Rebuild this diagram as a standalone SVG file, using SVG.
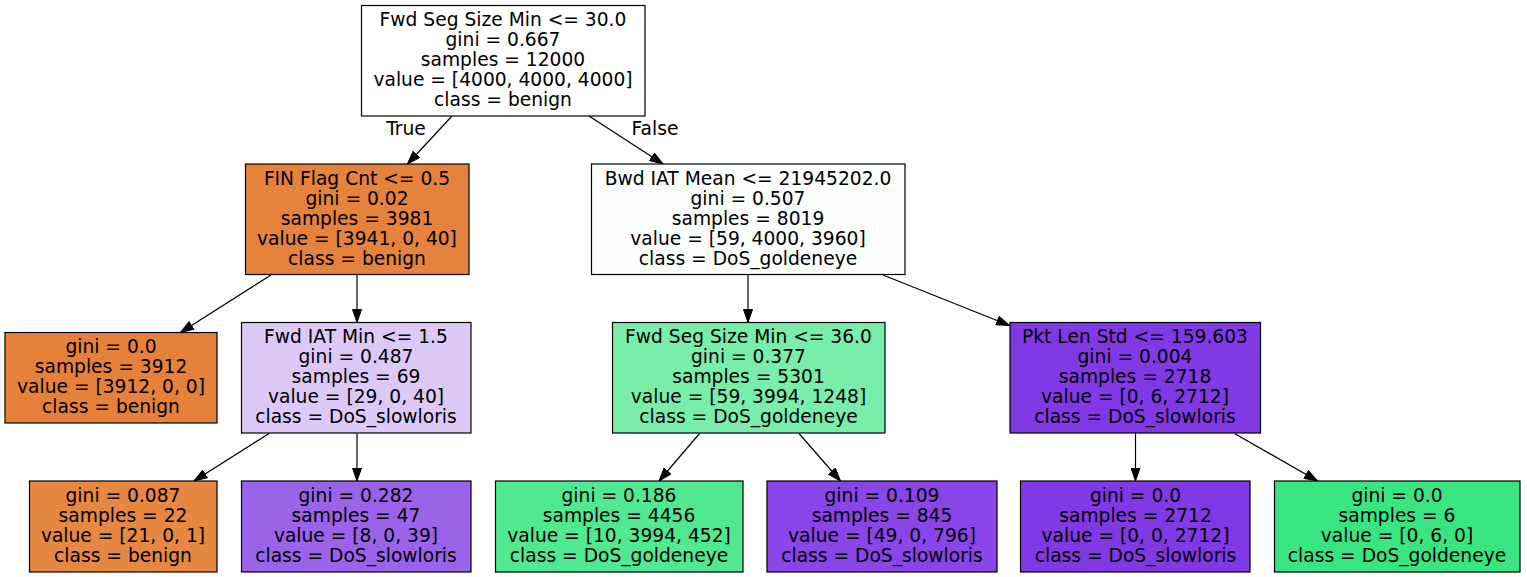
<svg xmlns="http://www.w3.org/2000/svg" width="1527" height="577" viewBox="0 0 1527 577">
<style>
text{font-family:"DejaVu Sans","Liberation Sans",sans-serif;font-size:18.67px;text-anchor:middle;fill:#000}
.n rect{stroke:#000;stroke-width:1.2}
.e line{stroke:#000;stroke-width:1.2;marker-end:url(#ah)}
</style>
<defs>
<marker id="ah" markerUnits="userSpaceOnUse" viewBox="0 0 14 10" refX="13.5" refY="5" markerWidth="14" markerHeight="10" orient="auto">
<path d="M0.5,0.5 L13.5,5 L0.5,9.5 Z" fill="#000" stroke="#000" stroke-width="1"/>
</marker>
</defs>
<rect width="1527" height="577" fill="#fff"/>
<g class="e" id="edges">
<line x1="452" y1="116" x2="407.5" y2="164"/>
<line x1="589" y1="116" x2="663" y2="164"/>
<line x1="271" y1="275" x2="180.5" y2="332.5"/>
<line x1="357" y1="275" x2="357" y2="322.5"/>
<line x1="748" y1="275" x2="748" y2="322.5"/>
<line x1="883" y1="275" x2="1009.5" y2="325.5"/>
<line x1="269" y1="433.5" x2="194" y2="481"/>
<line x1="357" y1="433.5" x2="357" y2="481"/>
<line x1="699.5" y1="433.5" x2="659" y2="481"/>
<line x1="799" y1="433.5" x2="840.5" y2="481"/>
<line x1="1135.5" y1="433.5" x2="1135.5" y2="481"/>
<line x1="1234.5" y1="433.5" x2="1317.5" y2="481"/>
<text x="406" y="135">True</text>
<text x="655" y="135">False</text>
</g>
<g class="n" id="n0">
<rect x="361.5" y="5.5" width="283.5" height="110.5" fill="#ffffff"/>
<text x="503" y="26">Fwd Seg Size Min &lt;= 30.0</text>
<text x="503" y="46">gini = 0.667</text>
<text x="503" y="66">samples = 12000</text>
<text x="503" y="86">value = [4000, 4000, 4000]</text>
<text x="503" y="106">class = benign</text>
</g>
<g class="n" id="n1">
<rect x="245.5" y="164" width="223.5" height="110.5" fill="#e5823b"/>
<text x="357" y="184.5">FIN Flag Cnt &lt;= 0.5</text>
<text x="357" y="204.5">gini = 0.02</text>
<text x="357" y="224.5">samples = 3981</text>
<text x="357" y="244.5">value = [3941, 0, 40]</text>
<text x="357" y="264.5">class = benign</text>
</g>
<g class="n" id="n2">
<rect x="5" y="332.5" width="212" height="90.5" fill="#e58139"/>
<text x="111" y="353">gini = 0.0</text>
<text x="111" y="373">samples = 3912</text>
<text x="111" y="393">value = [3912, 0, 0]</text>
<text x="111" y="413">class = benign</text>
</g>
<g class="n" id="n3">
<rect x="241.5" y="322.5" width="229.5" height="110.5" fill="#dcc9f8"/>
<text x="356" y="343">Fwd IAT Min &lt;= 1.5</text>
<text x="356" y="363">gini = 0.487</text>
<text x="356" y="383">samples = 69</text>
<text x="356" y="403">value = [29, 0, 40]</text>
<text x="356" y="423">class = DoS_slowloris</text>
</g>
<g class="n" id="n4">
<rect x="29.5" y="481" width="187.5" height="91" fill="#e68742"/>
<text x="123" y="501.5">gini = 0.087</text>
<text x="123" y="521.5">samples = 22</text>
<text x="123" y="541.5">value = [21, 0, 1]</text>
<text x="123" y="561.5">class = benign</text>
</g>
<g class="n" id="n5">
<rect x="241.5" y="481" width="229.5" height="91" fill="#9b62ea"/>
<text x="356" y="501.5">gini = 0.282</text>
<text x="356" y="521.5">samples = 47</text>
<text x="356" y="541.5">value = [8, 0, 39]</text>
<text x="356" y="561.5">class = DoS_slowloris</text>
</g>
<g class="n" id="n6">
<rect x="591.5" y="164" width="313.5" height="110.5" fill="#fdfffe"/>
<text x="748" y="184.5">Bwd IAT Mean &lt;= 21945202.0</text>
<text x="748" y="204.5">gini = 0.507</text>
<text x="748" y="224.5">samples = 8019</text>
<text x="748" y="244.5">value = [59, 4000, 3960]</text>
<text x="748" y="264.5">class = DoS_goldeneye</text>
</g>
<g class="n" id="n7">
<rect x="612.5" y="322.5" width="272.5" height="110.5" fill="#79edaa"/>
<text x="748.5" y="343">Fwd Seg Size Min &lt;= 36.0</text>
<text x="748.5" y="363">gini = 0.377</text>
<text x="748.5" y="383">samples = 5301</text>
<text x="748.5" y="403">value = [59, 3994, 1248]</text>
<text x="748.5" y="423">class = DoS_goldeneye</text>
</g>
<g class="n" id="n8">
<rect x="495.5" y="481" width="247.5" height="91" fill="#50e890"/>
<text x="619" y="501.5">gini = 0.186</text>
<text x="619" y="521.5">samples = 4456</text>
<text x="619" y="541.5">value = [10, 3994, 452]</text>
<text x="619" y="561.5">class = DoS_goldeneye</text>
</g>
<g class="n" id="n9">
<rect x="767" y="481" width="230" height="91" fill="#8945e7"/>
<text x="882" y="501.5">gini = 0.109</text>
<text x="882" y="521.5">samples = 845</text>
<text x="882" y="541.5">value = [49, 0, 796]</text>
<text x="882" y="561.5">class = DoS_slowloris</text>
</g>
<g class="n" id="n10">
<rect x="1010" y="322.5" width="250.5" height="110.5" fill="#8139e5"/>
<text x="1135" y="343">Pkt Len Std &lt;= 159.603</text>
<text x="1135" y="363">gini = 0.004</text>
<text x="1135" y="383">samples = 2718</text>
<text x="1135" y="403">value = [0, 6, 2712]</text>
<text x="1135" y="423">class = DoS_slowloris</text>
</g>
<g class="n" id="n11">
<rect x="1020.5" y="481" width="229.5" height="91" fill="#8139e5"/>
<text x="1135.5" y="501.5">gini = 0.0</text>
<text x="1135.5" y="521.5">samples = 2712</text>
<text x="1135.5" y="541.5">value = [0, 0, 2712]</text>
<text x="1135.5" y="561.5">class = DoS_slowloris</text>
</g>
<g class="n" id="n12">
<rect x="1274.5" y="481" width="245.5" height="91" fill="#39e581"/>
<text x="1397" y="501.5">gini = 0.0</text>
<text x="1397" y="521.5">samples = 6</text>
<text x="1397" y="541.5">value = [0, 6, 0]</text>
<text x="1397" y="561.5">class = DoS_goldeneye</text>
</g>
</svg>
